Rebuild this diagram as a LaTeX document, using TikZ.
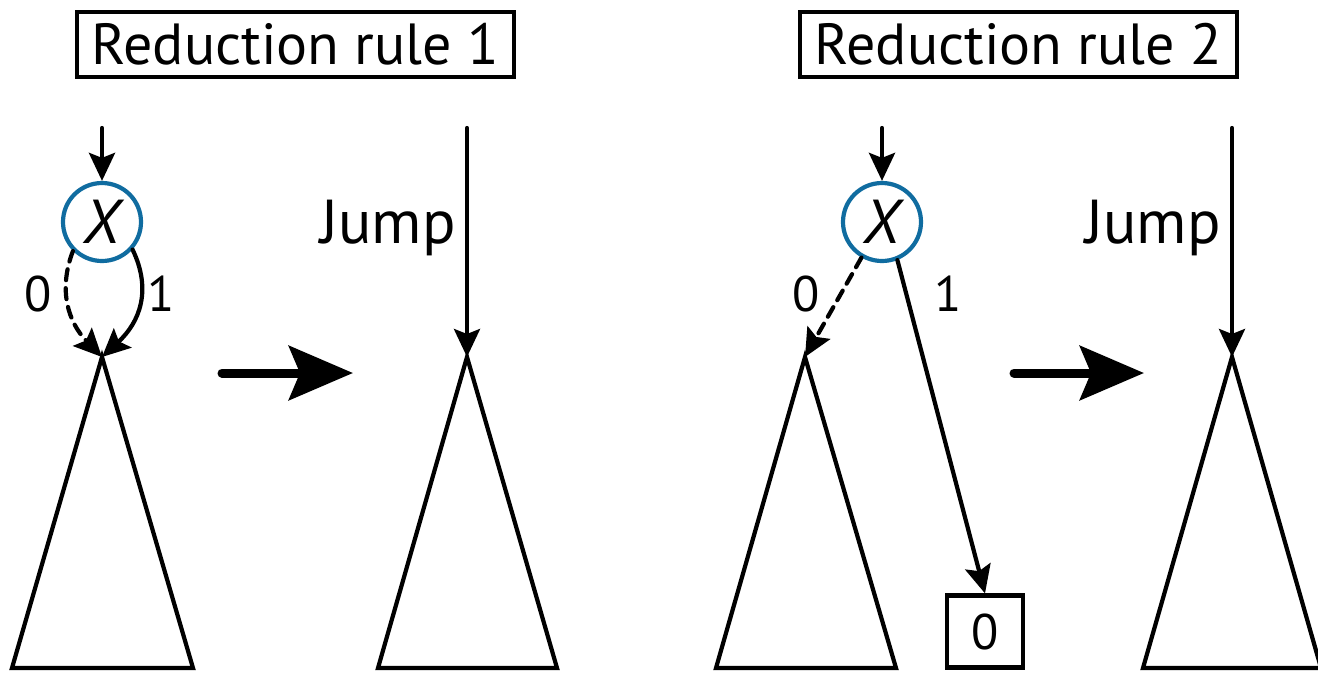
\documentclass[tikz,border=0pt]{standalone}
\usepackage{fontspec}
\setmainfont{PT Sans}
\usetikzlibrary{arrows.meta}
\definecolor{nodeblue}{RGB}{16,108,160}
\tikzset{
  every picture/.style={x=1pt,y=-1pt},
  ln/.style={line width=4.2pt,line cap=round},
  tri/.style={line width=4.2pt,line join=miter},
  arr/.style={ln,-{Stealth[length=28pt,width=26pt,inset=5pt]}},
  bigarr/.style={line width=9pt,line cap=round,-{Stealth[length=64pt,width=54pt,inset=11pt]}},
  dsh/.style={dash pattern=on 11pt off 8pt},
  title/.style={draw,line width=3.2pt,minimum width=437pt,minimum height=65pt,inner sep=0pt,font=\fontsize{58}{60}\selectfont},
  var/.style={circle,draw=nodeblue,line width=4.2pt,minimum size=78pt,inner sep=0pt,font=\fontsize{62}{64}\selectfont\itshape},
  lbl/.style={font=\fontsize{50}{52}\selectfont,inner sep=0pt},
  jmp/.style={font=\fontsize{62}{64}\selectfont,inner sep=0pt},
  leaf/.style={draw,line width=4.2pt,minimum width=76pt,minimum height=72pt,inner sep=0pt,font=\fontsize{50}{52}\selectfont},
}
\begin{document}
\begin{tikzpicture}
\useasboundingbox (0,0) rectangle (1318,673);
% titles
\node[title] (r1) at (295.5,44.5) {Reduction rule 1};
\node[title] (r2) at (1018.5,44.5) {Reduction rule 2};
% ---------- Rule 1, left ----------
\coordinate (s1) at (102,128);
\node[var] (x1) at (102,222) {X};
\coordinate (a1) at (102,357);
\coordinate (a1l) at (12,668);
\coordinate (a1r) at (193,668);
\draw[arr] (s1) -- (x1);
\draw[arr,dsh] (x1.225) .. controls (58,290) and (68,322) .. (a1);
\draw[arr] (x1.318) .. controls (152,290) and (140,322) .. (a1);
\node[lbl] (z1) at (38,294) {0};
\node[lbl] (o1) at (161,294) {1};
\draw[tri] (a1) -- (a1l) -- (a1r) -- cycle;
% big arrow 1
\coordinate (b1s) at (222,373);
\coordinate (b1e) at (353,373);
\draw[bigarr] (b1s) -- (b1e);
% ---------- Rule 1, right ----------
\coordinate (s2) at (467,128);
\coordinate (a2) at (467,357);
\coordinate (a2l) at (378,668);
\coordinate (a2r) at (557,668);
\draw[arr] (s2) -- (a2);
\node[jmp,anchor=east] (j1) at (456,228) {Jump};
\draw[tri] (a2) -- (a2l) -- (a2r) -- cycle;
% ---------- Rule 2, left ----------
\coordinate (s3) at (882,128);
\node[var] (x2) at (882,222) {X};
\coordinate (a3) at (805,357);
\coordinate (a3l) at (716,668);
\coordinate (a3r) at (896,668);
\node[leaf] (zero) at (985,631.5) {0};
\draw[arr] (s3) -- (x2);
\draw[arr,dsh] (x2.240) -- (a3);
\draw[arr] (x2.292) -- (zero.north);
\node[lbl] (z2) at (806,294) {0};
\node[lbl] (o2) at (948,294) {1};
\draw[tri] (a3) -- (a3l) -- (a3r) -- cycle;
% big arrow 2
\coordinate (b2s) at (1014,373);
\coordinate (b2e) at (1144,373);
\draw[bigarr] (b2s) -- (b2e);
% ---------- Rule 2, right ----------
\coordinate (s4) at (1232,128);
\coordinate (a4) at (1232,357);
\coordinate (a4l) at (1143,668);
\coordinate (a4r) at (1321,668);
\draw[arr] (s4) -- (a4);
\node[jmp,anchor=east] (j2) at (1221,228) {Jump};
\draw[tri] (a4) -- (a4l) -- (a4r) -- cycle;
\end{tikzpicture}
\end{document}
